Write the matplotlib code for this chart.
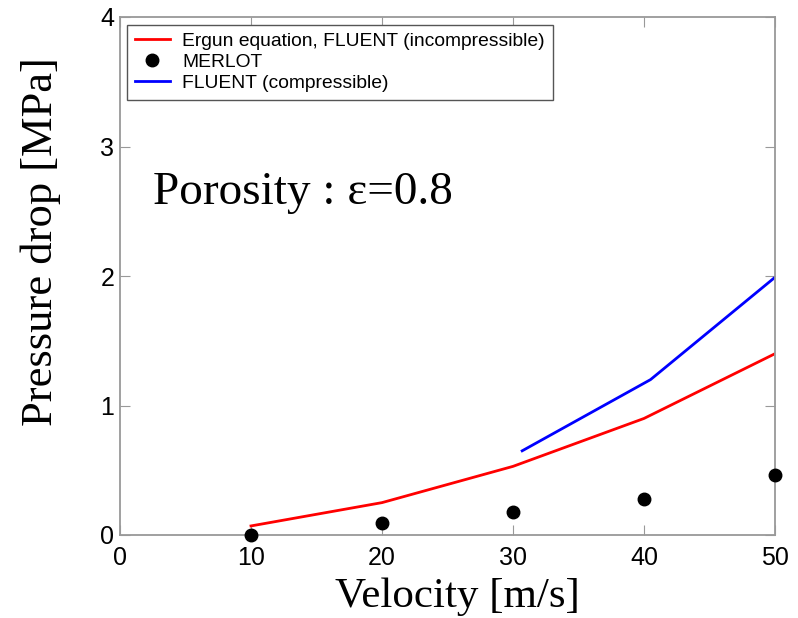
import matplotlib.pyplot as plt

ergun_v = [10, 20, 30, 40, 50]
ergun_dp = [0.07, 0.25, 0.53, 0.90, 1.40]

merlot_v = [10, 20, 30, 40, 50]
merlot_dp = [0.00, 0.09, 0.18, 0.28, 0.46]

comp_v = [30.7, 40.5, 50]
comp_dp = [0.65, 1.20, 1.99]

x_ticks = [0, 10, 20, 30, 40, 50]
y_ticks = [0, 1, 2, 3, 4]

fig = plt.figure(figsize=(7.98, 6.18), dpi=100)
ax = fig.add_axes([120 / 798, 1 - 535 / 618, 655 / 798, 518 / 618])

ax.plot(ergun_v, ergun_dp, color="#ff0000", lw=2,
        label="Ergun equation, FLUENT (incompressible)")
ax.plot(merlot_v, merlot_dp, "o", color="black", ms=9, ls="none",
        label="MERLOT", clip_on=False, zorder=3)
ax.plot(comp_v, comp_dp, color="#0000ff", lw=2, label="FLUENT (compressible)")

ax.set_xlim(0, 50)
ax.set_ylim(0, 4)
ax.set_xticks(x_ticks)
ax.set_yticks(y_ticks)
ax.tick_params(direction="in", top=True, right=True, length=7,
               color="#999999", labelsize=18)
ax.tick_params(axis="x", pad=8)
ax.tick_params(axis="y", pad=4)
for label in ax.get_xticklabels() + ax.get_yticklabels():
    label.set_fontfamily("Liberation Sans")
for spine in ax.spines.values():
    spine.set_color("#999999")
    spine.set_linewidth(1.3)

ax.set_xlabel("Velocity [m/s]", family="Liberation Serif", fontsize=31)
ax.xaxis.set_label_coords(0.515, -0.082)
ax.set_ylabel("Pressure drop [MPa]", family="Liberation Serif", fontsize=32)
ax.yaxis.set_label_coords(-0.09, 0.566)

ax.text(0.05, 0.66, "Porosity : ε=0.8", transform=ax.transAxes,
        family="Liberation Serif", fontsize=34, va="center")

leg = ax.legend(loc="upper left", bbox_to_anchor=(0.011, 0.985),
                prop={"family": "Liberation Sans", "size": 13.9},
                fancybox=False, framealpha=1, edgecolor="#555555",
                borderaxespad=0.0, handlelength=1.8, handletextpad=0.65,
                labelspacing=0.18, borderpad=0.4)
leg.get_frame().set_linewidth(1.0)

fig.savefig("out.png", dpi=100)
